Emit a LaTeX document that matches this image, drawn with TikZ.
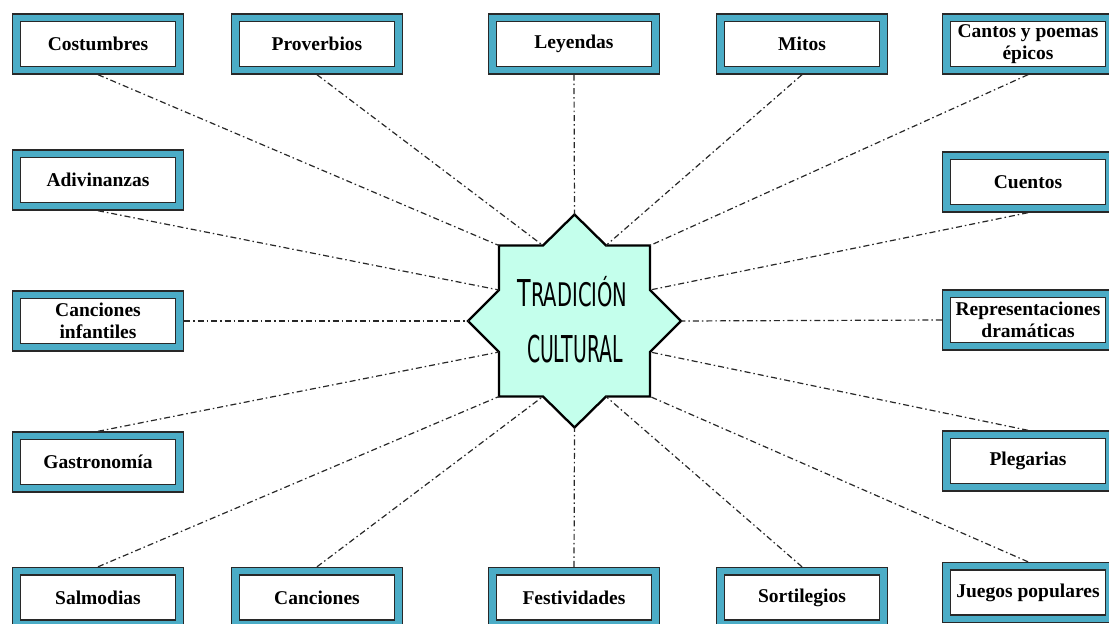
\documentclass[tikz,border=0pt]{standalone}
\usepackage{fontspec}
\setmainfont{Liberation Serif}
\newfontfamily\handfont{DejaVu Sans}
\usepackage{graphicx}
\definecolor{tealbox}{RGB}{75,172,198}
\definecolor{mint}{RGB}{196,255,236}
\definecolor{boxline}{RGB}{40,40,40}
\definecolor{linecol}{RGB}{40,40,40}
\newcommand\tradbox[4]{%
  \node[outerbox] (#1) at (#2,#3) {};
  \node[innerbox] (#1-t) at (#2,#3) {#4};}
\begin{document}
\begin{tikzpicture}[x=1pt,y=-1pt,
  outerbox/.style={draw=boxline, fill=tealbox, line width=1.4pt, minimum width=171pt, minimum height=60pt, inner sep=0pt},
  innerbox/.style={draw=boxline, fill=white, line width=1.3pt, minimum width=155pt, minimum height=45pt, inner sep=0pt, align=center, font=\bfseries\fontsize{19.5}{22}\selectfont},
  link/.style={draw=linecol, line width=1.2pt, dash pattern=on 6pt off 3pt on 1.5pt off 3pt},
  startcol/.style={draw=black, line width=2.3pt, fill=mint, line join=miter}]
\useasboundingbox (0,0) rectangle (1109,624);
\clip (0,0) rectangle (1109,624);
% star vertices
\coordinate (sN) at (574.5,214.5);
\coordinate (nNE1) at (606,245.5);
\coordinate (cNE) at (650,245.5);
\coordinate (nNE2) at (650,290);
\coordinate (sE) at (681,321);
\coordinate (nSE1) at (650,352);
\coordinate (cSE) at (650,396.5);
\coordinate (nSE2) at (606,396.5);
\coordinate (sS) at (574.5,427.5);
\coordinate (nSW1) at (543,396.5);
\coordinate (cSW) at (499,396.5);
\coordinate (nSW2) at (499,352);
\coordinate (sW) at (468,321);
\coordinate (nNW1) at (499,290);
\coordinate (cNW) at (499,245.5);
\coordinate (nNW2) at (543,245.5);
\draw[startcol] (sN) -- (nNE1) -- (cNE) -- (nNE2) -- (sE) -- (nSE1) -- (cSE) -- (nSE2) -- (sS) -- (nSW1) -- (cSW) -- (nSW2) -- (sW) -- (nNW1) -- (cNW) -- (nNW2) -- cycle;
\node[anchor=base, inner sep=0pt] (title1) at (572.5,306) {\handfont\scalebox{0.6}[1]{{\fontsize{37}{37}\selectfont T}{\fontsize{32.5}{37}\selectfont RADICIÓN}}};
\node[anchor=base, inner sep=0pt] (title2) at (575,362) {\handfont\scalebox{0.51}[1]{\fontsize{37}{37}\selectfont CULTURAL}};
% boxes
\tradbox{costumbres}{98}{44}{Costumbres}
\tradbox{proverbios}{317}{44}{Proverbios}
\tradbox{leyendas}{574}{44}{Leyendas}
\tradbox{mitos}{802}{44}{Mitos}
\tradbox{cantos}{1028}{44}{Cantos y poemas\\épicos}
\tradbox{adivinanzas}{98}{180}{Adivinanzas}
\tradbox{infantiles}{98}{321}{Canciones\\infantiles}
\tradbox{gastronomia}{98}{462}{Gastronomía}
\tradbox{salmodias}{98}{597.5}{Salmodias}
\tradbox{canciones}{317}{597.5}{Canciones}
\tradbox{festividades}{574}{597.5}{Festividades}
\tradbox{sortilegios}{802}{597.5}{Sortilegios}
\tradbox{juegos}{1028}{592.5}{Juegos populares}
\tradbox{cuentos}{1028}{182}{Cuentos}
\tradbox{representaciones}{1028}{320}{Representaciones\\dramáticas}
\tradbox{plegarias}{1028}{461}{Plegarias}
% connectors
\draw[link] (costumbres.south) -- (cNW);
\draw[link] (proverbios.south) -- (nNW2);
\draw[link] (leyendas.south) -- (sN);
\draw[link] (mitos.south) -- (nNE1);
\draw[link] (cantos.south) -- (cNE);
\draw[link] (adivinanzas.south) -- (nNW1);
\draw[link] (infantiles.east) -- (sW);
\draw[link] (gastronomia.north) -- (nSW2);
\draw[link] (salmodias.north) -- (cSW);
\draw[link] (canciones.north) -- (nSW1);
\draw[link] (festividades.north) -- (sS);
\draw[link] (sortilegios.north) -- (nSE2);
\draw[link] (juegos.north) -- (cSE);
\draw[link] (cuentos.south) -- (nNE2);
\draw[link] (representaciones.west) -- (sE);
\draw[link] (plegarias.north) -- (nSE1);
\end{tikzpicture}
\end{document}
